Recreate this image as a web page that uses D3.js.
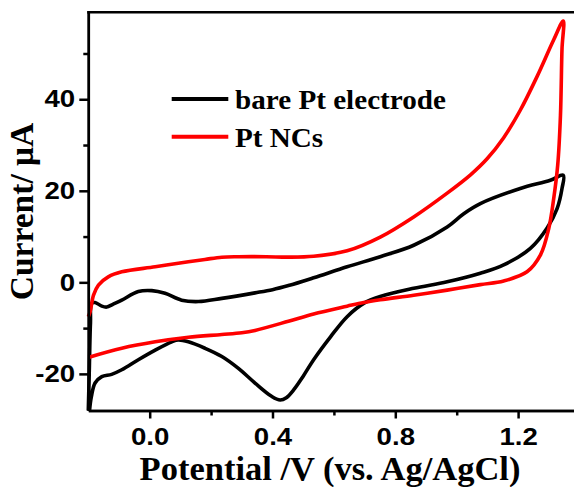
<!DOCTYPE html>
<html>
<head>
<meta charset="utf-8">
<script src="https://cdn.jsdelivr.net/npm/d3@7"></script>
<style>
  html, body { margin: 0; padding: 0; background: #fff; }
  svg { display: block; }
  .tick text { font-family: "Liberation Sans", Arial, sans-serif; font-weight: bold; font-size: 24px; fill: #000; }
  .title { font-family: "Liberation Serif", "Times New Roman", serif; font-weight: bold; fill: #000; }
</style>
</head>
<body>
<svg id="chart" width="574" height="487"></svg>
<script>
// potential (V vs Ag/AgCl) and current (uA)
const ptForwardV = [-0.2, -0.194, -0.183, -0.167, -0.135, -0.091, 0.018, 0.126, 0.18, 0.235, 0.289, 0.38, 0.452, 0.534, 0.643, 0.751, 0.86, 0.969, 1.045, 1.099, 1.153, 1.207, 1.262, 1.316, 1.347];
const ptForwardI = [-7.5, -6.4, -2.8, -0.6, 1.2, 2.3, 3.4, 4.5, 5.0, 5.5, 5.6, 5.6, 5.5, 5.7, 6.9, 9.9, 14.3, 19.5, 23.5, 27.0, 31.6, 37.6, 45.0, 53.0, 57.1];
const ptReverseV = [1.343, 1.338, 1.329, 1.316, 1.3, 1.273, 1.229, 1.153, 1.077, 0.969, 0.86, 0.751, 0.697, 0.643, 0.534, 0.452, 0.343, 0.3, 0.235, 0.126, 0.018, -0.091, -0.2];
const ptReverseI = [51, 36.5, 25.6, 18.3, 11.8, 6.0, 2.3, 0.3, -0.5, -1.7, -2.8, -3.8, -4.4, -5.2, -6.9, -8.5, -10.5, -11.0, -11.4, -12.0, -13.0, -14.4, -16.4];

const bareForwardV = [-0.2, -0.197, -0.193, -0.189, -0.178, -0.156, -0.14, -0.12, -0.091, -0.037, 0.007, 0.05, 0.104, 0.159, 0.235, 0.343, 0.4, 0.452, 0.534, 0.643, 0.751, 0.86, 0.969, 1.023, 1.077, 1.207, 1.305, 1.347];
const bareForwardI = [-28, -20, -9, -4.6, -4.4, -5.2, -5.4, -4.8, -3.9, -2.0, -1.8, -2.4, -3.9, -4.2, -3.5, -2.3, -1.6, -0.7, 1.0, 3.4, 5.6, 8.1, 12.1, 15.0, 17.2, 20.5, 22.3, 23.4];
const bareReverseV = [1.343, 1.327, 1.294, 1.24, 1.153, 1.077, 0.969, 0.86, 0.751, 0.697, 0.643, 0.589, 0.534, 0.5, 0.47, 0.445, 0.425, 0.397, 0.343, 0.289, 0.235, 0.18, 0.126, 0.093, 0.072, 0.018, -0.037, -0.091, -0.124, -0.156, -0.178, -0.19, -0.196];
const bareReverseI = [20.5, 16.1, 11.8, 7.4, 3.8, 2.0, 0.13, -1.3, -3.1, -4.6, -7.5, -11.9, -16.9, -20.5, -23.4, -25.2, -25.7, -24.9, -22.0, -18.8, -16.2, -14.4, -13.0, -12.6, -13.0, -14.8, -16.9, -19.1, -20.1, -20.6, -22.0, -25, -28];

const seriesNames = ['bare Pt electrode', 'Pt NCs'];
const seriesColors = ['#000000', '#ff0000'];

const potentialTicks = [0.0, 0.4, 0.8, 1.2];
const potentialMinorTicks = [0.2, 0.6, 1.0];
const currentTicks = [-20, 0, 20, 40];
const currentMinorTicks = [-10, 10, 30, 50];

const svg = d3.select('#chart');
const plotLeft = 88.3, plotTop = 12.3, plotBottom = 410.5, plotRight = 579.5;

const x = d3.scaleLinear().domain([-0.2, 1.4]).range([plotLeft, plotRight]);
const y = d3.scaleLinear().domain([-28, 59]).range([plotBottom, plotTop]);

const toPoints = (v1, i1, v2, i2) =>
  v1.map((v, k) => [v, i1[k]]).concat(v2.map((v, k) => [v, i2[k]]));

const series = [
  toPoints(bareForwardV, bareForwardI, bareReverseV, bareReverseI),
  toPoints(ptForwardV, ptForwardI, ptReverseV, ptReverseI)
];

const line = d3.line()
  .x(d => x(d[0]))
  .y(d => y(d[1]))
  .curve(d3.curveCatmullRom.alpha(0.5));

svg.selectAll('path.cv')
  .data(series)
  .enter()
  .append('path')
    .classed('cv', true)
    .attr('d', line)
    .attr('fill', 'none')
    .attr('stroke', (d, i) => seriesColors[i])
    .attr('stroke-width', 3.6)
    .attr('stroke-linejoin', 'round');

// axes
const xAxis = svg.append('g')
  .attr('transform', 'translate(0,' + plotBottom + ')')
  .call(d3.axisBottom(x).tickValues(potentialTicks).tickFormat(d3.format('.1f')).tickSize(8).tickSizeOuter(0));
xAxis.selectAll('.tick text')
  .attr('y', 17.8)
  .attr('transform', 'scale(1.15,1)');

svg.append('g')
  .attr('transform', 'translate(0,' + plotBottom + ')')
  .call(d3.axisBottom(x).tickValues(potentialMinorTicks).tickFormat('').tickSize(5).tickSizeOuter(0));

const yAxis = svg.append('g')
  .attr('transform', 'translate(' + plotLeft + ',0)')
  .call(d3.axisLeft(y).tickValues(currentTicks).tickFormat(d => String(d)).tickSize(9).tickSizeOuter(0));
yAxis.selectAll('.tick text')
  .attr('x', -11.5)
  .attr('transform', 'scale(1.15,1)');

svg.append('g')
  .attr('transform', 'translate(' + plotLeft + ',0)')
  .call(d3.axisLeft(y).tickValues(currentMinorTicks).tickFormat('').tickSize(5).tickSizeOuter(0));

svg.selectAll('.domain, .tick line')
  .attr('stroke', '#000')
  .attr('stroke-width', 2.5);

svg.append('line')
  .attr('x1', plotLeft - 1.2).attr('x2', plotRight)
  .attr('y1', plotTop).attr('y2', plotTop)
  .attr('stroke', '#000')
  .attr('stroke-width', 2.5);

// axis titles
svg.append('text')
  .classed('title', true)
  .attr('x', 330)
  .attr('y', 480)
  .attr('text-anchor', 'middle')
  .style('font-size', '34.5px')
  .text('Potential /V (vs. Ag/AgCl)');

svg.append('text')
  .classed('title', true)
  .attr('transform', 'translate(33,211.5) rotate(-90)')
  .attr('text-anchor', 'middle')
  .style('font-size', '33.5px')
  .text('Current/ μA');

// legend
const legend = svg.selectAll('g.legend')
  .data(seriesNames)
  .enter()
  .append('g')
    .classed('legend', true)
    .attr('transform', (d, i) => 'translate(0,' + (99 + i * 37.7) + ')');

legend.append('line')
  .attr('x1', 171.7).attr('x2', 228.3)
  .attr('stroke', (d, i) => seriesColors[i])
  .attr('stroke-width', 4);

legend.append('text')
  .classed('title', true)
  .attr('transform', 'translate(235,10) scale(1.1,1)')
  .style('font-size', '26.5px')
  .text(d => d);
</script>
</body>
</html>
